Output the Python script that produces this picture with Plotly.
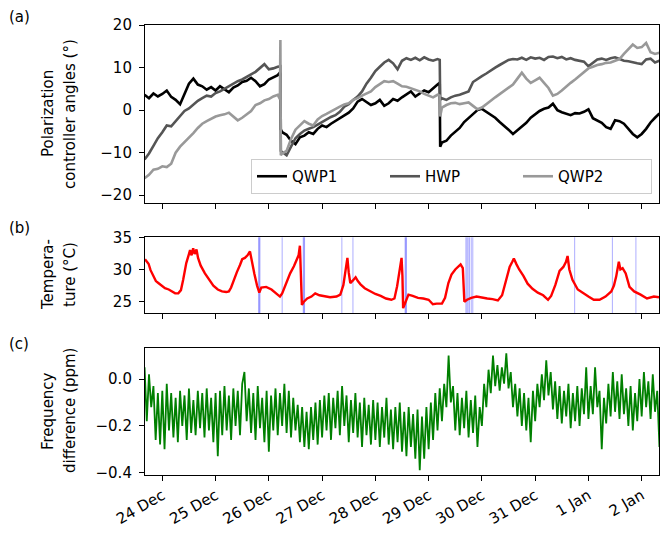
import pandas as pd
import plotly.graph_objects as go

BASE = pd.Timestamp("2022-12-24 00:00")

# ---------------- panel (a): polarization controller angles (deg) ----------------
HOURS_A = (list(range(-8, 53, 2)) + [53.0, 53.2, 53.4] + list(range(54, 125, 2))
           + [125.0, 125.2] + list(range(126, 225, 2)))
QWP1 = [3.6, 2.8, 3.9, 3.2, 3.8, 4.6, 3.1, 2.4, 1.4, 3.8,
        6.2, 7.4, 6.0, 5.6, 4.8, 5.4, 4.6, 5.6, 4.9, 4.2,
        5.3, 5.8, 6.6, 6.9, 7.6, 6.8, 5.6, 6.1, 7.2, 7.8,
        8.2,
        8.8, 8.5, -4.5,
        -5.2, -5.8, -7.2, -8.0, -6.4, -6.0, -5.2, -5.6, -4.4, -3.6,
        -4.0, -3.2, -2.6, -2.0, -1.4, -0.6, 0.4, 2.0, 2.6, 1.8,
        1.2, 1.6, 2.4, 1.0, 1.6, 2.6, 2.2, 3.0, 3.6, 4.4,
        3.2, 3.8, 4.6, 4.2, 5.2, 6.0,
        6.4, -8.6,
        -7.6, -7.2, -6.0, -5.0, -4.2, -2.8, -1.8, -0.9, 0.0, 0.3,
        -0.4, -1.1, -1.8, -2.8, -3.6, -4.6, -5.6, -4.8, -3.9, -3.0,
        -1.8, -0.9, -0.2, 0.3, 0.6, 1.5, 0.0, -0.5, -0.9, -1.2,
        -0.7, -0.8, -0.4, 0.2, -1.9, -2.5, -3.0, -4.0, -4.4, -2.4,
        -2.6, -3.2, -4.4, -5.6, -6.4, -5.6, -4.4, -2.9, -1.8, -0.8]
HWP = [-11.6, -10.2, -8.4, -6.6, -5.2, -3.6, -3.8, -2.6, -1.4, -0.2,
       0.4, 1.4, 2.2, 2.8, 3.4, 3.2, 4.0, 4.4, 5.0, 5.6,
       6.3, 6.8, 7.2, 7.9, 8.4, 9.0, 10.0, 10.8, 9.6, 9.8,
       10.2,
       10.4, 10.3, -9.6,
       -9.8, -10.6, -8.6, -6.6, -5.6, -4.8, -4.4, -4.0, -3.4, -2.8,
       -2.2, -1.6, -1.2, -0.4, 0.8, 1.4, 2.4, 3.2, 4.4, 6.2,
       7.6, 9.2, 10.2, 11.2, 11.8, 11.0, 9.6, 11.6, 12.2, 11.8,
       12.3, 11.7, 12.4, 11.9, 11.6, 12.0,
       11.8, 2.4,
       2.8, 2.4, 3.0, 3.4, 3.6, 4.0, 4.4, 6.6, 7.4, 8.0,
       8.6, 9.4, 10.0, 10.6, 11.2, 11.8, 12.0, 11.9, 12.3, 11.8,
       12.4, 12.1, 12.3, 11.8, 12.5, 12.6, 12.2, 12.5, 11.9, 12.2,
       11.8, 11.6, 11.4, 10.3, 11.0, 11.9, 12.1, 11.8, 12.2, 12.4,
       12.0, 11.6, 11.5, 11.2, 11.0, 10.8, 11.9, 12.1, 11.2, 11.6]
QWP2 = [-16.0, -15.2, -14.0, -13.8, -13.2, -13.4, -12.6, -10.0, -8.6, -7.6,
        -6.6, -5.4, -4.2, -3.2, -2.6, -2.0, -1.5, -1.2, -1.0, -0.6,
        -1.6, -2.4, -1.8, -1.1, -0.2, 1.2, 1.6, 2.3, 2.6, 3.2,
        3.6,
        2.6, 16.5, -10.6,
        -10.2, -9.6, -6.8, -4.6, -3.6, -2.6, -3.2, -3.6, -2.2, -1.4,
        -0.9, -0.3, 0.2, 0.8, 1.3, 1.6, 2.4, 2.8, 3.4, 4.0,
        4.4, 5.4, 6.0, 6.8, 6.6, 6.8, 6.2, 5.6, 5.5, 5.1,
        4.8, 4.4, 3.8, 3.4, 3.0, 3.6,
        3.4, -1.5,
        0.6, 1.2, 1.6, 1.7, 1.4, 1.6, 1.8, 1.0, 0.2, 0.6,
        1.3, 2.2, 3.0, 3.8, 4.6, 5.2, 6.0, 7.4, 8.8, 7.4,
        6.4, 7.0, 7.6, 6.4, 5.2, 3.4, 3.8, 4.6, 5.6, 6.4,
        7.2, 8.0, 9.0, 9.8, 10.2, 10.6, 10.8, 11.1, 11.2, 11.6,
        12.0, 13.2, 14.2, 15.4, 14.6, 14.8, 15.8, 13.6, 13.2, 13.5]

# ---------------- panel (b): temperature (deg C) ----------------
TEMP_HOURS = [-7.8, -7, -6.2, -5.3, -4.1, -2.9, -1.8, 0, 1.2, 2.9, 4.3, 5.8, 7.2, 8.4, 9.4, 10.8,
              12, 12.5, 13.2, 13.9, 14.6, 15.4, 16.1, 17.3, 19.2, 21.1, 23, 25, 26.9, 28.8, 30,
              31, 32.4, 33.6, 35, 36, 37.2, 38.4, 39.5, 40.3, 41.5, 42.7, 43.7, 44.6, 46.8, 49.2,
              51.6, 53, 54, 55.7, 57.6, 59.3, 60.7, 61.4, 62, 62.4, 62.9, 63.8, 65.3, 67.2, 68.9,
              70.8, 73.2, 75.6, 78.5, 80.2, 81.6, 82.8, 83.4, 84, 84.7, 85.9, 87.1, 88.1, 89.3,
              91.2, 93.6, 96, 98.4, 100.8, 103.2, 104.6, 105.8, 107, 107.8, 108.2, 108.5, 109.2,
              110.9, 112.8, 115.2, 117.6, 120, 121.9, 123.6, 126, 127.4, 128.9, 130.3, 132, 133.4,
              134.4, 135.4, 136.1, 137.3, 139.2, 141.6, 144, 146.4, 148.8, 151.2, 153.1, 154.8,
              156.5, 157.7, 158.4, 159.6, 160.8, 162.7, 164.6, 166.8, 169.2, 171.6, 173.8, 175.2,
              177.1, 179, 180.7, 181.9, 182.6, 183.4, 184.8, 187.2, 189.6, 192, 194.4, 197, 199.7,
              202.3, 203.5, 204.5, 205.7, 206.4, 207.4, 208.8, 210.5, 212.6, 215.5, 218.4, 221.5,
              223.8]
TEMP_C = [31.6, 31.2, 30.9, 29.9, 28.9, 28.2, 27.9, 27.5, 27.1, 26.9, 26.6, 26.3, 26.3, 26.8, 28.4, 31.0,
          32.4, 33.0, 32.2, 33.3, 32.4, 33.1, 31.8, 30.6, 29.4, 28.4, 27.5, 26.9, 26.6, 26.5, 26.6,
          27.2, 28.6, 29.6, 30.7, 31.6, 31.8, 32.2, 32.8, 31.2, 29.3, 27.5, 26.4, 27.2, 27.3, 26.9,
          26.2, 25.8, 26.3, 27.9, 29.4, 30.5, 31.5, 32.2, 33.7, 30.5, 24.5, 25.0, 25.5, 25.8, 26.3,
          26.0, 25.9, 25.7, 25.8, 26.1, 27.6, 30.2, 31.8, 29.5, 27.9, 28.3, 28.8, 28.2, 27.7,
          27.1, 26.6, 26.2, 25.9, 25.5, 25.3, 25.5, 27.4, 29.8, 31.8, 29.0, 24.0, 24.6,
          26.1, 25.9, 25.6, 25.5, 25.3, 24.6, 24.7, 24.7, 25.6, 27.9, 29.2, 30.0, 30.5,
          30.8, 30.2, 25.0, 25.3, 25.6, 25.8, 25.6, 25.5, 25.4, 25.2, 26.0, 28.4,
          30.4, 31.2, 31.7, 30.8, 30.0, 29.0, 27.8, 27.0, 26.4, 26.0, 25.3, 25.9,
          27.6, 29.8, 30.4, 31.2, 32.1, 30.0, 28.4, 26.9, 26.3, 25.8, 25.3, 25.3, 25.8,
          26.6, 27.5, 28.9, 31.2, 30.0, 30.2, 29.4, 27.3, 26.6, 26.1, 25.5, 25.8,
          25.7]
EVENT_HOURS = [43.4, 43.7, 44.0, 54.0, 63.5, 63.8, 64.1, 80.9, 85.9, 109.4, 109.7, 110.0,
               136.8, 137.3, 137.8, 138.4, 139.2, 139.9, 185.8, 202.8, 213.4]

# ---------------- panel (c): frequency difference (ppm) ----------------
FREQ_HOURS = list(range(-8, 225))
FREQ = [0.05, -0.18, 0.02, -0.12, -0.03, -0.26, -0.06, -0.28,
        -0.05, -0.30, -0.02, -0.22, -0.06, -0.25, -0.08, -0.27, -0.05, -0.20, -0.07, -0.26,
        -0.04, -0.23, -0.09, -0.24, -0.05, -0.21, -0.06, -0.25, -0.04, -0.22, -0.08, -0.27,
        -0.06, -0.33, -0.05, -0.24, -0.03, -0.22, -0.07, -0.26, -0.04, -0.20, -0.05, -0.24,
        -0.02, 0.03, -0.18, -0.04, -0.23, -0.06, -0.26, -0.03, -0.21, -0.08, -0.27, -0.05,
        -0.31, -0.07, -0.22, -0.04, -0.24, -0.06, -0.20, -0.02, -0.23, -0.05, -0.25, -0.08,
        -0.22, -0.11, -0.27, -0.12, -0.29, -0.14, -0.30, -0.12, -0.26, -0.10, -0.28, -0.09,
        -0.25, -0.07, -0.22, -0.06, -0.26, -0.08, -0.21, -0.05, -0.24, -0.03, -0.20, -0.07,
        -0.27, -0.09, -0.23, -0.06, -0.25, -0.10, -0.29, -0.08, -0.24, -0.11, -0.28, -0.09,
        -0.26, -0.10, -0.29, -0.12, -0.25, -0.08, -0.28, -0.13, -0.30, -0.12, -0.27, -0.10,
        -0.31, -0.14, -0.33, -0.12, -0.29, -0.15, -0.34, -0.13, -0.39, -0.16, -0.34, -0.12,
        -0.30, -0.10, -0.26, -0.06, -0.22, -0.04, -0.18, -0.02, -0.12, 0.10, -0.10, -0.03,
        -0.22, -0.06, -0.24, -0.08, -0.21, -0.05, -0.25, -0.09, -0.23, -0.07, -0.29, -0.12,
        -0.20, -0.02, -0.12, 0.04, -0.06, 0.10, -0.03, 0.06, -0.05, 0.05, -0.02, 0.11,
        -0.04, 0.03, -0.12, -0.02, -0.16, -0.04, -0.20, -0.06, -0.22, -0.08, -0.27, -0.05,
        -0.18, -0.02, -0.12, 0.02, -0.09, 0.08, -0.07, 0.03, -0.13, -0.01, -0.17, -0.03,
        -0.19, -0.05, -0.16, -0.02, -0.21, -0.06, -0.18, -0.03, -0.20, -0.04, -0.15, 0.05,
        -0.17, -0.03, -0.15, 0.05, -0.12, -0.05, -0.30, -0.08, -0.19, -0.02, -0.16, 0.03,
        -0.14, -0.01, -0.17, 0.02, -0.15, -0.04, -0.20, -0.03, -0.22, -0.06, -0.18, 0.00,
        -0.16, 0.03, -0.12, -0.01, -0.17, 0.02, -0.14, -0.05, -0.29]

TICK_DATES = ["2022-12-24", "2022-12-25", "2022-12-26", "2022-12-27", "2022-12-28",
              "2022-12-29", "2022-12-30", "2022-12-31", "2023-01-01", "2023-01-02"]
TICK_TEXT = ["24 Dec", "25 Dec", "26 Dec", "27 Dec", "28 Dec",
             "29 Dec", "30 Dec", "31 Dec", "1 Jan", "2 Jan"]


def to_time(hours):
    return BASE + pd.to_timedelta(pd.Series(hours, dtype=float), unit="h")


XA = to_time(HOURS_A)
XT = to_time(TEMP_HOURS)
XF = to_time(FREQ_HOURS)
X_RANGE = [BASE - pd.Timedelta(hours=7.8), BASE + pd.Timedelta(hours=223.8)]

FONT = "DejaVu Sans"
fig = go.Figure()
fig.add_trace(go.Scatter(x=XA, y=QWP1, mode="lines", name="QWP1",
                         line=dict(color="#000000", width=2.6), xaxis="x", yaxis="y"))
fig.add_trace(go.Scatter(x=XA, y=HWP, mode="lines", name="HWP",
                         line=dict(color="#555555", width=2.6), xaxis="x", yaxis="y"))
fig.add_trace(go.Scatter(x=XA, y=QWP2, mode="lines", name="QWP2",
                         line=dict(color="#999999", width=2.6), xaxis="x", yaxis="y"))
fig.add_trace(go.Scatter(x=XT, y=TEMP_C, mode="lines", showlegend=False,
                         line=dict(color="#ff0000", width=2.4), xaxis="x2", yaxis="y2"))
fig.add_trace(go.Scatter(x=XF, y=FREQ, mode="lines", showlegend=False,
                         line=dict(color="#008000", width=1.8), xaxis="x3", yaxis="y3"))

for h in EVENT_HOURS:
    t = BASE + pd.Timedelta(hours=h)
    fig.add_shape(type="line", xref="x2", yref="y2 domain", x0=t, x1=t, y0=0, y1=1,
                  line=dict(color="rgba(0,0,255,0.32)", width=1), layer="below")

axis_common = dict(showline=True, linecolor="black", linewidth=1.1, mirror=True,
                   ticks="outside", ticklen=5, tickwidth=1.1, tickcolor="black",
                   showgrid=False, zeroline=False,
                   tickfont=dict(family=FONT, size=15, color="black"))

xcommon = dict(axis_common, type="date", range=X_RANGE,
               tickmode="array", tickvals=TICK_DATES, ticktext=TICK_TEXT)

L, R, T, B = 145, 10, 25, 58
H = 533 - T - B
W = 669 - L - R


def dom(top_px, bot_px):
    return [1 - (bot_px - T) / H, 1 - (top_px - T) / H]


def px_x(px):
    return (px - L) / W


def px_y(py):
    return 1 - (py - T) / H


fig.update_layout(
    width=669, height=533,
    margin=dict(l=L, r=R, t=T, b=B, autoexpand=False),
    paper_bgcolor="white", plot_bgcolor="white",
    font=dict(family=FONT, size=15, color="black"),
    xaxis=dict(xcommon, anchor="y", showticklabels=False),
    xaxis2=dict(xcommon, anchor="y2", matches="x", showticklabels=False),
    xaxis3=dict(xcommon, anchor="y3", matches="x", tickangle=-30),
    yaxis=dict(axis_common, domain=dom(25, 203.3), range=[-21.9, 20],
               tickvals=[-20, -10, 0, 10, 20], ticklabelstandoff=4),
    yaxis2=dict(axis_common, domain=dom(237.3, 313.3), range=[23.2, 35],
                tickvals=[25, 30, 35], ticklabelstandoff=4),
    yaxis3=dict(axis_common, domain=dom(347.7, 475), range=[-0.41, 0.134],
                tickvals=[-0.4, -0.2, 0.0], tickformat=".1f", ticklabelstandoff=4),
    legend=dict(orientation="h", x=px_x(251), xanchor="left",
                y=px_y(194), yanchor="bottom",
                bgcolor="rgba(255,255,255,0.8)", bordercolor="#cccccc", borderwidth=1,
                font=dict(family=FONT, size=15), entrywidth=88, entrywidthmode="pixels",
                tracegroupgap=0),
    showlegend=True,
)

labels = [
    ("Polarization", 48, 114), ("controller angles (°)", 70, 114),
    ("Tempera-", 48, 275), ("ture (°C)", 70, 275),
    ("Frequency", 48, 411), ("difference (ppm)", 70, 411),
]
for txt, x, y in labels:
    fig.add_annotation(text=txt, x=px_x(x), y=px_y(y), xref="paper", yref="paper",
                       textangle=-90, showarrow=False, xanchor="center", yanchor="middle",
                       font=dict(family=FONT, size=15, color="black"))

for txt, x, y in [("(a)", 19, 17), ("(b)", 19, 228), ("(c)", 19, 344)]:
    fig.add_annotation(text=txt, x=px_x(x), y=px_y(y), xref="paper", yref="paper",
                       showarrow=False, xanchor="center", yanchor="middle",
                       font=dict(family=FONT, size=15, color="black"))

fig.write_html("out.html")
